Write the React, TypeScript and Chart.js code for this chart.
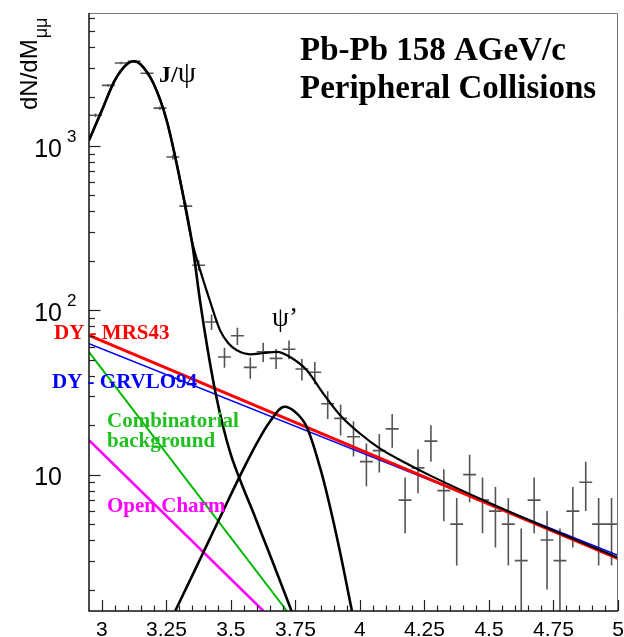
import { useEffect, useRef } from "react";
import { Chart, registerables } from "chart.js";

Chart.register(...registerables);

// ---------- data ----------
const binCenters = [
  2.975, 3.025, 3.075, 3.125, 3.175, 3.225, 3.275, 3.325, 3.375, 3.425,
  3.475, 3.525, 3.575, 3.625, 3.675, 3.725, 3.775, 3.825, 3.875, 3.925,
  3.975, 4.025, 4.075, 4.125, 4.175, 4.225, 4.275, 4.325, 4.375, 4.425,
  4.475, 4.525, 4.575, 4.625, 4.675, 4.725, 4.775, 4.825, 4.875, 4.925, 4.975,
];
const counts = [
  1540, 2340, 3200, 3280, 2770, 1700, 857, 431, 188, 85,
  52, 70, 45, 56, 51, 58, 44, 42, 27, 22,
  17, 12, 14, 19, 7, 11, 16, 8, 5, 10,
  7, 6, 5, 3, 7, 4, 3, 6, 9, 5, 5,
];
const countErrors = [
  39.2, 48.4, 56.6, 57.3, 52.6, 41.2, 29.3, 20.8, 13.7, 9.2,
  7.2, 8.4, 6.7, 7.5, 7.1, 7.6, 6.6, 6.5, 5.2, 4.7,
  4.1, 3.5, 3.7, 4.4, 2.6, 3.3, 4.0, 2.8, 2.2, 3.2,
  2.6, 2.4, 2.2, 1.7, 2.6, 2.0, 1.7, 2.4, 3.0, 2.2, 2.2,
];
const binHalfWidth = 0.025;

const totalX = [2.95, 3.0, 3.05, 3.1, 3.125, 3.15, 3.2, 3.25, 3.3, 3.348, 3.381, 3.418, 3.458, 3.49, 3.523, 3.574, 3.626, 3.678, 3.729, 3.794, 3.858, 3.923, 4.0, 4.078, 4.181, 4.271, 4.5, 5.0];
const totalY = [1083, 1650, 2510, 3180, 3280, 3140, 2400, 1450, 660, 267, 175, 115, 75.5, 63, 57.1, 54.0, 55.0, 55.8, 52.0, 43.2, 31.1, 23.0, 17.8, 14.4, 11.7, 9.9, 6.75, 3.12];

const jpsiX = [2.95, 3.0, 3.05, 3.1, 3.125, 3.15, 3.2, 3.25, 3.3, 3.35, 3.38, 3.41, 3.44, 3.47, 3.5, 3.54, 3.59, 3.64, 3.69, 3.735];
const jpsiY = [1083, 1650, 2510, 3180, 3280, 3140, 2400, 1450, 650, 255, 115, 57.5, 31.6, 19.5, 13.2, 8.9, 5.7, 3.6, 2.26, 1.48];

const psipX = [3.284, 3.35, 3.407, 3.471, 3.536, 3.6, 3.65, 3.707, 3.75, 3.794, 3.845, 3.878, 3.92, 3.969];
const psipY = [1.48, 2.43, 3.74, 6.07, 9.9, 15.5, 20.9, 25.9, 24.0, 19.5, 11.1, 6.98, 3.55, 1.48];

const dyX = [2.95, 5.0];
const dyMrs43Y = [70.5, 3.08];
const dyGrvlo94Y = [62.7, 3.23];

const combX = [2.95, 3.717];
const combY = [55.7, 1.48];

const charmX = [2.95, 3.626];
const charmY = [16.2, 1.48];

const xMin = 2.95;
const xMax = 5.0;
const yMin = 1.48;
const yMax = 6450;

const xTickValues = [3, 3.25, 3.5, 3.75, 4, 4.25, 4.5, 4.75, 5];
const xTickLabels = ["3", "3.25", "3.5", "3.75", "4", "4.25", "4.5", "4.75", "5"];
const yTickValues = [10, 100, 1000];
const yTickBase = ["10", "10", "10"];
const yTickExponent = ["", "2", "3"];

const titleLines = ["Pb-Pb 158 AGeV/c", "Peripheral Collisions"];
const yTitle = "dN/dM";
const yTitleSub = "μμ";

const SANS = "'Liberation Sans', Arial, Helvetica, sans-serif";
const SERIF = "'Liberation Serif', 'Times New Roman', serif";

const pts = (xs: number[], ys: number[]) => xs.map((x, i) => ({ x, y: ys[i] }));

const rootPlugin = {
  id: "rootStyle",
  beforeDatasetsDraw(chart: any) {
    const { ctx, chartArea: a, scales } = chart;
    const xs = scales.x;
    const ys = scales.y;
    ctx.save();
    ctx.beginPath();
    ctx.rect(a.left, a.top, a.right - a.left, a.bottom - a.top);
    ctx.clip();
    ctx.strokeStyle = "#555";
    ctx.lineWidth = 1.6;
    for (let i = 0; i < binCenters.length; i++) {
      const cx = xs.getPixelForValue(binCenters[i]);
      const cy = ys.getPixelForValue(counts[i]);
      const x0 = xs.getPixelForValue(binCenters[i] - binHalfWidth);
      const x1 = xs.getPixelForValue(binCenters[i] + binHalfWidth);
      const lo = counts[i] - countErrors[i];
      const y0 = ys.getPixelForValue(lo > 0 ? lo : yMin * 0.5);
      const y1 = ys.getPixelForValue(counts[i] + countErrors[i]);
      ctx.beginPath();
      ctx.moveTo(x0, cy);
      ctx.lineTo(x1, cy);
      ctx.moveTo(cx, y0);
      ctx.lineTo(cx, y1);
      ctx.stroke();
    }
    ctx.restore();
  },
  afterDraw(chart: any) {
    const { ctx, chartArea: a, scales } = chart;
    const xs = scales.x;
    const ys = scales.y;
    ctx.save();
    // frame
    ctx.strokeStyle = "#777";
    ctx.lineWidth = 1;
    ctx.beginPath();
    ctx.moveTo(a.left, a.top + 0.5);
    ctx.lineTo(a.right - 0.5, a.top + 0.5);
    ctx.lineTo(a.right - 0.5, a.bottom);
    ctx.stroke();
    ctx.strokeStyle = "#111";
    ctx.lineWidth = 1.5;
    ctx.beginPath();
    ctx.moveTo(a.left, a.top);
    ctx.lineTo(a.left, a.bottom);
    ctx.lineTo(a.right, a.bottom);
    ctx.stroke();

    // x ticks
    ctx.lineWidth = 1.2;
    ctx.strokeStyle = "#222";
    for (let i = 1; i <= 41; i++) {
      const v = xMin + i * 0.05;
      const px = Math.round(xs.getPixelForValue(v)) + 0.5;
      const major = Math.abs(v * 4 - Math.round(v * 4)) < 1e-6;
      ctx.beginPath();
      ctx.moveTo(px, a.bottom);
      ctx.lineTo(px, a.bottom - (major ? 11 : 5.5));
      ctx.stroke();
    }
    // y ticks
    for (const d of [1, 10, 100, 1000]) {
      for (let m = 1; m <= 9; m++) {
        const v = m * d;
        if (v < yMin || v > yMax) continue;
        const py = Math.round(ys.getPixelForValue(v)) + 0.5;
        ctx.beginPath();
        ctx.moveTo(a.left, py);
        ctx.lineTo(a.left + (m === 1 ? 11.5 : 6), py);
        ctx.stroke();
      }
    }

    // x labels
    ctx.fillStyle = "#000";
    ctx.font = `21px ${SANS}`;
    ctx.textAlign = "center";
    ctx.textBaseline = "alphabetic";
    xTickValues.forEach((v, i) => {
      ctx.fillText(xTickLabels[i], xs.getPixelForValue(v), 636);
    });
    // y labels
    yTickValues.forEach((v, i) => {
      const py = ys.getPixelForValue(v);
      ctx.font = `25px ${SANS}`;
      ctx.textAlign = "right";
      ctx.fillText(yTickBase[i], 62, py + 10.5);
      if (yTickExponent[i]) {
        ctx.font = `17px ${SANS}`;
        ctx.textAlign = "left";
        ctx.fillText(yTickExponent[i], 67, py - 4);
      }
    });

    // y title (rotated)
    ctx.save();
    ctx.translate(37, 110);
    ctx.rotate(-Math.PI / 2);
    ctx.font = `24px ${SANS}`;
    ctx.textAlign = "left";
    ctx.fillText(yTitle, 0, 0);
    const w = ctx.measureText(yTitle).width;
    ctx.font = `18px ${SANS}`;
    ctx.fillText(yTitleSub, w + 1, 10);
    ctx.restore();

    // title
    ctx.textAlign = "left";
    ctx.font = `bold 33px ${SERIF}`;
    ctx.fillText(titleLines[0], 300, 60);
    ctx.fillText(titleLines[1], 300, 98);

    // peak labels
    ctx.font = `bold 24px ${SERIF}`;
    ctx.fillText("J/", 159, 82);
    const jw = ctx.measureText("J/").width;
    ctx.font = `29px ${SERIF}`;
    ctx.fillText("ψ", 159 + jw, 82);
    ctx.font = `27px ${SERIF}`;
    ctx.fillText("ψ’", 272, 326);

    // component labels
    ctx.font = `bold 21px ${SERIF}`;
    ctx.fillStyle = "#ff0000";
    ctx.fillText("DY - MRS43", 54, 338.5);
    ctx.fillStyle = "#0000ff";
    ctx.fillText("DY - GRVLO94", 52, 388);
    ctx.fillStyle = "#1fc01f";
    ctx.fillText("Combinatorial", 107, 426.5);
    ctx.fillText("background", 107, 446.5);
    ctx.fillStyle = "#ff00ff";
    ctx.fillText("Open Charm", 107, 512);
    ctx.restore();
  },
};

export default function App() {
  const ref = useRef<HTMLCanvasElement>(null);
  useEffect(() => {
    const line = (label: string, xs: number[], ys: number[], color: string, width: number, order: number, smooth: boolean) => ({
      label,
      data: pts(xs, ys),
      borderColor: color,
      borderWidth: width,
      pointRadius: 0,
      fill: false,
      order,
      cubicInterpolationMode: smooth ? ("monotone" as const) : ("default" as const),
      tension: smooth ? 0.4 : 0,
    });
    const chart = new Chart(ref.current!, {
      type: "line",
      data: {
        datasets: [
          line("Total fit", totalX, totalY, "#000", 2.2, 1, true),
          line("J/psi", jpsiX, jpsiY, "#000", 2.6, 2, true),
          line("psi'", psipX, psipY, "#000", 2.6, 3, true),
          line("DY - MRS43", dyX, dyMrs43Y, "#ff0000", 3, 4, false),
          line("DY - GRVLO94", dyX, dyGrvlo94Y, "#0000ff", 1.6, 5, false),
          line("Combinatorial background", combX, combY, "#00b800", 2, 6, false),
          line("Open Charm", charmX, charmY, "#ff00ff", 2.6, 7, false),
        ] as any,
      },
      options: {
        responsive: false,
        animation: false,
        devicePixelRatio: 1,
        layout: { padding: { left: 89, right: 6, top: 13, bottom: 26 } },
        plugins: { legend: { display: false }, tooltip: { enabled: false } },
        scales: {
          x: { type: "linear", min: xMin, max: xMax, display: false },
          y: { type: "logarithmic", min: yMin, max: yMax, display: false },
        },
      },
      plugins: [rootPlugin],
    });
    return () => chart.destroy();
  }, []);
  return (
    <div style={{ position: "fixed", left: 0, top: 0, width: 624, height: 637, background: "#fff" }}>
      <canvas ref={ref} width={624} height={637} style={{ display: "block" }} />
    </div>
  );
}
